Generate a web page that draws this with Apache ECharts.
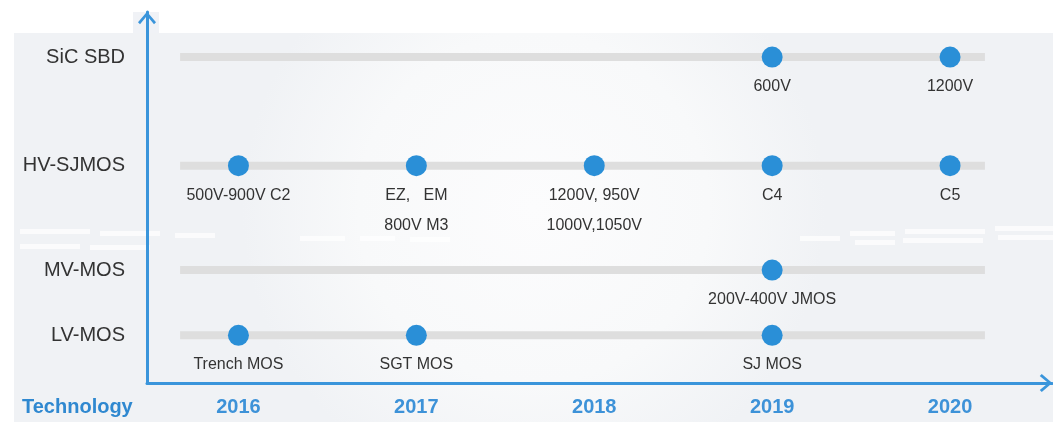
<!DOCTYPE html>
<html>
<head>
<meta charset="utf-8">
<script src="https://cdn.jsdelivr.net/npm/echarts@6/dist/echarts.min.js"></script>
<style>
html,body{margin:0;padding:0;background:#fff;}
#chart{width:1053px;height:422px;}
</style>
</head>
<body>
<div id="chart"></div>
<script>
// ---- data ----
const technologies = ['LV-MOS', 'MV-MOS', 'HV-SJMOS', 'SiC SBD'];
const years = [2016, 2017, 2018, 2019, 2020];
const sicSbd = [[2019, '600V'], [2020, '1200V']];
const hvSjmos = [[2016, '500V-900V C2'], [2017, 'EZ,   EM\n800V M3'], [2018, '1200V, 950V\n1000V,1050V'], [2019, 'C4'], [2020, 'C5']];
const mvMos = [[2019, '200V-400V JMOS']];
const lvMos = [[2016, 'Trench MOS'], [2017, 'SGT MOS'], [2019, 'SJ MOS']];
const axisTitle = 'Technology';

// ---- layout ----
const rowLevel = { 'LV-MOS': 0.9, 'MV-MOS': 2.13, 'HV-SJMOS': 4.1, 'SiC SBD': 6.15 };
const milestonesByRow = { 'LV-MOS': lvMos, 'MV-MOS': mvMos, 'HV-SJMOS': hvSjmos, 'SiC SBD': sicSbd };
const xMin = 2015.486, xMax = 2020.573;
const trackStart = 2015.672, trackEnd = 2020.196;

const blue = '#2a8fd7';
const axisBlue = '#3a95db';
const chevron = 'path://M0,10.5 L9,0 L18,10.5 L16,12.5 L9,4 L2,12.5 Z';

const chart = echarts.init(document.getElementById('chart'));

const series = [];
technologies.forEach(function (t) {
  series.push({
    type: 'line',
    silent: true,
    symbol: 'none',
    z: 1,
    lineStyle: { color: '#dedede', width: 8, cap: 'butt' },
    data: [[trackStart, rowLevel[t]], [trackEnd, rowLevel[t]]]
  });
});
technologies.forEach(function (t) {
  series.push({
    type: 'scatter',
    z: 3,
    clip: false,
    symbol: 'circle',
    symbolSize: 21,
    itemStyle: { color: blue, opacity: 1 },
    label: {
      show: true,
      position: 'bottom',
      distance: 4,
      formatter: function (p) { return p.name; },
      color: '#333333',
      opacity: 1,
      fontSize: 16,
      lineHeight: 30,
      fontFamily: 'Liberation Sans, Arial, sans-serif'
    },
    data: milestonesByRow[t].map(function (m) {
      return { value: [m[0], rowLevel[t]], name: m[1] };
    })
  });
});

// background streaks
const streaks = [];
const streakDefs = [[20, 229, 70], [100, 231, 60], [175, 233, 40], [300, 236, 45], [360, 236, 35], [410, 237, 40],
  [800, 236, 40], [850, 231, 45], [905, 229, 80], [995, 226, 58], [20, 244, 60], [90, 245, 60], [855, 240, 40], [903, 238, 80], [998, 235, 55]];
streakDefs.forEach(function (s) {
  streaks.push({ type: 'rect', shape: { x: s[0], y: s[1], width: s[2], height: 5 }, style: { fill: 'rgba(255,255,255,0.7)' }, silent: true, z: -9 });
});

chart.setOption({
  animation: false,
  backgroundColor: '#ffffff',
  graphic: [
    {
      type: 'rect', z: -10, silent: true,
      shape: { x: 14, y: 33, width: 1039, height: 389 },
      style: {
        fill: {
          type: 'radial', x: 0.5, y: 0.45, r: 0.75,
          colorStops: [
            { offset: 0, color: '#fcfcfd' },
            { offset: 0.6, color: '#f8f9fa' },
            { offset: 1, color: '#f0f2f5' }
          ]
        }
      }
    },
    { type: 'rect', z: -10, silent: true, shape: { x: 133, y: 12, width: 26, height: 21 }, style: { fill: '#f0f2f6' } }
  ].concat(streaks).concat([
    {
      type: 'text', left: 22, top: 397, z: 10,
      style: { text: axisTitle, fill: '#2f88d0', font: 'bold 20px "Liberation Sans", Arial, sans-serif' }
    }
  ]),
  grid: { left: 147, right: 1, top: 12, bottom: 39, containLabel: false },
  xAxis: {
    type: 'value',
    min: xMin,
    max: xMax,
    splitLine: { show: false },
    axisTick: { show: false },
    axisLine: {
      show: true,
      onZero: false,
      symbol: ['none', chevron],
      symbolSize: [18, 13],
      symbolOffset: [0, -6],
      lineStyle: { color: axisBlue, width: 3 }
    },
    axisLabel: {
      customValues: years,
      margin: 14,
      formatter: function (v) { return String(Math.round(v)); },
      color: '#3d92d8',
      fontSize: 20,
      fontWeight: 'bold',
      fontFamily: 'Liberation Sans, Arial, sans-serif'
    }
  },
  yAxis: {
    type: 'value',
    min: 0,
    max: 7,
    splitLine: { show: false },
    axisTick: { show: false },
    axisLine: {
      show: true,
      onZero: false,
      symbol: ['none', chevron],
      symbolSize: [18, 13],
      symbolOffset: [0, -6],
      lineStyle: { color: axisBlue, width: 3 }
    },
    axisLabel: {
      customValues: technologies.map(function (t) { return rowLevel[t]; }),
      margin: 22,
      formatter: function (v) {
        for (let i = 0; i < technologies.length; i++) {
          if (Math.abs(rowLevel[technologies[i]] - v) < 1e-6) return technologies[i];
        }
        return '';
      },
      color: '#333333',
      fontSize: 20,
      fontFamily: 'Liberation Sans, Arial, sans-serif'
    }
  },
  series: series
});
</script>
</body>
</html>
